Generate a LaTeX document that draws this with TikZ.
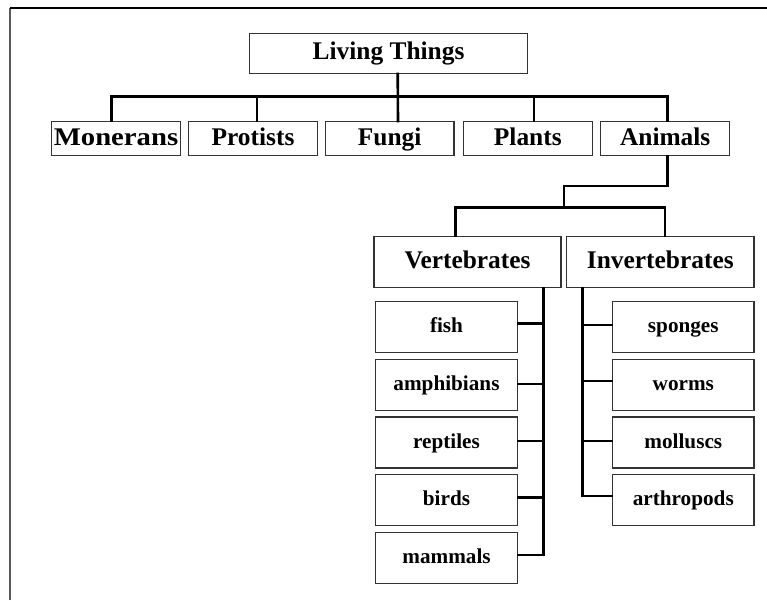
\documentclass[tikz,border=0pt]{standalone}
\usepackage{fontspec}
\setmainfont{Liberation Serif}
\usetikzlibrary{calc}
\begin{document}
\begin{tikzpicture}[x=1pt,y=-1pt,
  box/.style={draw=black!80,line width=1.3pt,inner sep=0pt,text height=17.5pt,text depth=4.3pt,font=\fontsize{25.4}{30}\selectfont\bfseries},
  small/.style={box,minimum width=141.5pt,minimum height=51pt,text height=15pt,text depth=3.6pt,font=\fontsize{21.2}{25}\selectfont\bfseries},
  lvl/.style={box,minimum width=128.8pt,minimum height=34pt},
  conn/.style={line width=2.6pt,line cap=rect,line join=miter}]
\useasboundingbox (0,0) rectangle (767,600);
% frame
\coordinate (f0) at (10,600);
\coordinate (f1) at (10,8);
\coordinate (f2) at (767,8);
\draw[line width=1.5pt,black!65] (f0) -- (f1);
\draw[line width=1.3pt] (f1) -- (f2);
% nodes
\node[box,minimum width=278.4pt,minimum height=40pt] (LT) at (388.5,53.3) {Living Things};
\node[lvl] (Monerans) at (116,138.7) {\scalebox{1.13}[1]{Monerans}};
\node[lvl] (Protists) at (253,138.7) {Protists};
\node[lvl] (Fungi) at (389.7,138.7) {Fungi};
\node[lvl] (Plants) at (527.8,138.7) {Plants};
\node[lvl] (Animals) at (665.2,138.7) {Animals};
\node[box,minimum width=187pt,minimum height=51pt] (Vert) at (467.5,262.2) {Vertebrates};
\node[box,minimum width=187.3pt,minimum height=51pt] (Invert) at (660.3,262.2) {Invertebrates};
\node[small] (fish) at (446.5,327.2) {fish};
\node[small] (amph) at (446.5,385) {amphibians};
\node[small] (rept) at (446.5,442.5) {reptiles};
\node[small] (birds) at (446.5,500.2) {birds};
\node[small] (mamm) at (446.5,557.8) {mammals};
\node[small] (spon) at (683.3,327.2) {sponges};
\node[small] (worms) at (683.3,385) {worms};
\node[small] (moll) at (683.3,442.5) {molluscs};
\node[small] (arth) at (683.3,500.2) {arthropods};
% top tree
\coordinate (bus) at (0,96.7);
\draw[conn] ([xshift=9.2pt]LT.south) -- ([xshift=8.3pt]Fungi.north);
\draw[conn] ([xshift=-4.3pt]Monerans.north) |- ([xshift=2.1pt]Animals.north |- bus) -- ([xshift=2.1pt]Animals.north);
\draw[conn] ([xshift=4pt]Protists.north) -- ([xshift=4pt]Protists.north |- bus);
\draw[conn] ([xshift=6.2pt]Plants.north) -- ([xshift=6.2pt]Plants.north |- bus);
% animals split
\coordinate (mid) at (564,186);
\coordinate (bus2) at (0,207.7);
\draw[conn] ([xshift=2.1pt]Animals.south) |- (mid) -- (mid |- bus2);
\draw[conn] ([xshift=-11.8pt]Vert.north) |- ([xshift=4.7pt]Invert.north |- bus2) -- ([xshift=4.7pt]Invert.north);
% vertebrates
\coordinate (vs) at (543.3,0);
\draw[conn] (Vert.south -| vs) |- ([yshift=2.8pt]mamm.east);
\foreach \n/\s in {fish/3.9,amph/1,rept/1.5,birds/2.5}
  \draw[conn] ([yshift=\s pt]\n.east) -- ([yshift=\s pt]\n.east -| vs);
% invertebrates
\coordinate (is) at (582.3,0);
\draw[conn] (Invert.south -| is) |- ([yshift=4.2pt]arth.west);
\foreach \n/\s in {spon/2.2,worms/4,moll/1.5}
  \draw[conn] ([yshift=\s pt]\n.west) -- ([yshift=\s pt]\n.west -| is);
\end{tikzpicture}
\end{document}
